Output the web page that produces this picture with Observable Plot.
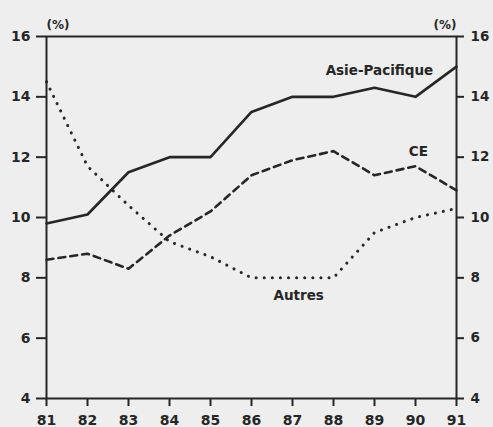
<!DOCTYPE html>
<html>
<head>
<meta charset="utf-8">
<script src="https://cdn.jsdelivr.net/npm/d3@7"></script>
<script src="https://cdn.jsdelivr.net/npm/@observablehq/plot@0.6"></script>
<style>
  html, body { margin: 0; padding: 0; background: #eeeeee; }
  #chart svg { display: block; }
</style>
</head>
<body>
<div id="chart"></div>
<script>
const years = [81, 82, 83, 84, 85, 86, 87, 88, 89, 90, 91];
const asiePacifique = [9.8, 10.1, 11.5, 12.0, 12.0, 13.5, 14.0, 14.0, 14.3, 14.0, 15.0];
const ce = [8.6, 8.8, 8.3, 9.4, 10.2, 11.4, 11.9, 12.2, 11.4, 11.7, 10.9];
const autres = [14.5, 11.7, 10.4, 9.2, 8.7, 8.0, 8.0, 8.0, 9.5, 10.0, 10.3];
const yTicks = [4, 6, 8, 10, 12, 14, 16];
const seriesNames = ["Asie-Pacifique", "CE", "Autres"];
const labelPos = [
  {name: "Asie-Pacifique", x: 89.12, y: 14.87},
  {name: "CE", x: 90.07, y: 12.17},
  {name: "Autres", x: 87.15, y: 7.4}
];

const series = [asiePacifique, ce, autres];
const rows = [];
seriesNames.forEach((s, i) => years.forEach((yr, j) => rows.push({serie: s, year: yr, value: series[i][j]})));
const ink = "#262626";
const font = "DejaVu Sans";

const chart = Plot.plot({
  width: 493,
  height: 427,
  marginLeft: 46,
  marginRight: 37,
  marginTop: 36,
  marginBottom: 29,
  style: {background: "#eeeeee", fontFamily: font, fontWeight: "bold", fontSize: "14px", color: ink},
  x: {domain: [81, 91], axis: null},
  y: {domain: [4, 16], axis: null},
  marks: [
    Plot.frame({stroke: ink, strokeWidth: 2}),
    Plot.axisX({ticks: years, tickFormat: d => String(d), tickSize: 8, tickPadding: 9, stroke: ink, strokeWidth: 2, fill: ink, fontSize: 14, fontWeight: "bold"}),
    Plot.axisY({anchor: "left", ticks: yTicks, tickSize: 10, tickPadding: 6, stroke: ink, strokeWidth: 2, fill: ink, fontSize: 14, fontWeight: "bold", label: null}),
    Plot.axisY({anchor: "right", ticks: yTicks, tickSize: 7, tickPadding: 7, stroke: ink, strokeWidth: 2, fill: ink, fontSize: 13.5, fontWeight: "bold", label: null}),
    Plot.line(rows.filter(d => d.serie === "Asie-Pacifique"), {x: "year", y: "value", stroke: ink, strokeWidth: 2.6}),
    Plot.line(rows.filter(d => d.serie === "CE"), {x: "year", y: "value", stroke: ink, strokeWidth: 2.6, strokeDasharray: "7,5"}),
    Plot.line(rows.filter(d => d.serie === "Autres"), {x: "year", y: "value", stroke: ink, strokeWidth: 3, strokeDasharray: "0.1,8", strokeLinecap: "round"}),
    Plot.text(labelPos, {x: "x", y: "y", text: "name", fill: ink, fontSize: 13.5, fontWeight: "bold"}),
    Plot.text(["(%)"], {frameAnchor: "top-left", dx: 0, dy: -16, fill: ink, fontSize: 12, fontWeight: "bold"}),
    Plot.text(["(%)"], {frameAnchor: "top-right", dx: 0, dy: -16, fill: ink, fontSize: 12, fontWeight: "bold"})
  ]
});
document.getElementById("chart").appendChild(chart);
</script>
</body>
</html>
